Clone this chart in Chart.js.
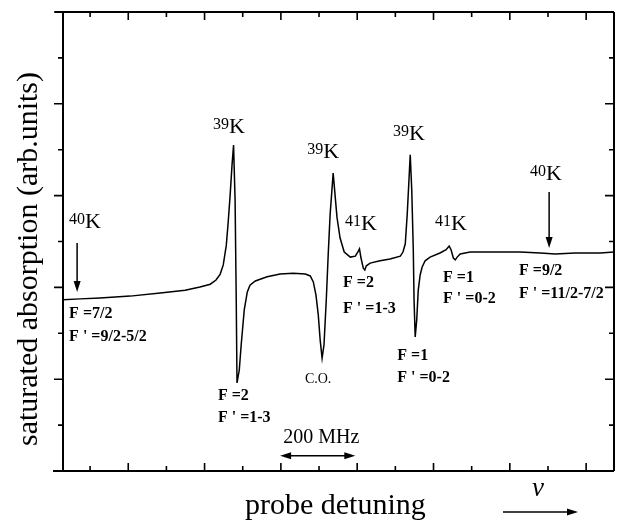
<!DOCTYPE html>
<html><head><meta charset="utf-8">
<script src="https://cdn.jsdelivr.net/npm/chart.js@4/dist/chart.umd.min.js"></script>
<style>html,body{margin:0;padding:0;background:#fff}#wrap{width:619px;height:521px}</style>
</head><body><div id="wrap"><canvas id="c" width="619" height="521"></canvas></div>
<script>
// probe detuning (MHz, arbitrary origin) and saturated absorption signal (arb. units)
const detuningMHz = [-71,-26,26,105,184,249,288,315,330,341,349,357,362,367,372,376,380,383,385,391,396,404,412,419,433,464,498,532,564,577,585,592,598,603,608,613,619,624,629,637,642,647,655,666,682,695,703,706,710,716,720,724,734,760,786,813,820,826,831,835,839,843,847,849,852,856,860,865,870,878,891,917,933,941,946,952,957,962,970,996,1075,1127,1180,1219,1271,1337,1374];
const absorption = [3.73,3.75,3.77,3.81,3.88,3.94,4.01,4.07,4.16,4.29,4.49,4.92,5.43,6.01,6.67,7.10,5.90,3.73,1.92,2.20,2.75,3.51,3.90,4.05,4.14,4.23,4.29,4.31,4.29,4.25,4.12,3.83,3.40,2.85,2.46,2.75,3.73,4.71,5.58,6.49,6.01,5.53,5.08,4.77,4.66,4.68,4.79,4.84,4.64,4.42,4.38,4.47,4.53,4.58,4.62,4.68,4.77,4.95,5.58,6.23,6.89,6.12,4.82,3.73,2.92,3.29,3.94,4.27,4.44,4.58,4.66,4.75,4.82,4.90,4.82,4.64,4.60,4.66,4.73,4.77,4.77,4.77,4.75,4.73,4.75,4.75,4.77];
const xTickValues = [0,100,200,300,400,500,600,700,800,900,1000,1100,1200,1300];
const yTickValues = [0,1,2,3,4,5,6,7,8,9,10];

// annotation texts (positions in data units)
const isotopeLabels = [
  {mass:'40', x:-55, y:5.29},
  {mass:'39', x:322, y:7.36},
  {mass:'39', x:569, y:6.82},
  {mass:'41', x:668, y:5.25},
  {mass:'39', x:794, y:7.21},
  {mass:'41', x:904, y:5.25},
  {mass:'40', x:1153, y:6.34}
];
const levelLabels = [
  {text:'F =7/2', x:-55, y:3.33},
  {text:"F ' =9/2-5/2", x:-55, y:2.83},
  {text:'F =2', x:335, y:1.55},
  {text:"F ' =1-3", x:335, y:1.07},
  {text:'F =2', x:663, y:4.01},
  {text:"F ' =1-3", x:663, y:3.44},
  {text:'F =1', x:805, y:2.42},
  {text:"F ' =0-2", x:805, y:1.94},
  {text:'F =1', x:925, y:4.12},
  {text:"F ' =0-2", x:925, y:3.66},
  {text:'F =9/2', x:1124, y:4.27},
  {text:"F ' =11/2-7/2", x:1124, y:3.77}
];
const plainLabels = [
  {text:'C.O.', x:563, y:1.92},
  {text:'200 MHz', x:506, y:0.61}
];
const downArrows = [
  {x:-34, y0:4.97, y1:3.90},
  {x:1203, y0:6.08, y1:4.86}
];
const scaleBar = {x0:498, x1:695, y:0.33};

const points = detuningMHz.map((x,i)=>({x:x, y:absorption[i]}));

function arrowHead(ctx, x, y, dir, len, half){
  ctx.beginPath();
  if(dir==='down'){ctx.moveTo(x,y);ctx.lineTo(x-half,y-len);ctx.lineTo(x+half,y-len);}
  if(dir==='right'){ctx.moveTo(x,y);ctx.lineTo(x-len,y-half);ctx.lineTo(x-len,y+half);}
  if(dir==='left'){ctx.moveTo(x,y);ctx.lineTo(x+len,y-half);ctx.lineTo(x+len,y+half);}
  ctx.closePath();ctx.fill();
}

const decor = {
  id:'decor',
  afterDraw(chart){
    const ctx = chart.ctx, a = chart.chartArea, xs = chart.scales.x, ys = chart.scales.y;
    ctx.save();
    ctx.strokeStyle='#000'; ctx.fillStyle='#000';
    // frame
    ctx.lineWidth=2;
    ctx.beginPath();
    ctx.moveTo(a.left-8,a.top);ctx.lineTo(a.right,a.top);
    ctx.moveTo(a.left-10,a.bottom);ctx.lineTo(a.right,a.bottom);
    ctx.moveTo(a.left,a.top);ctx.lineTo(a.left,a.bottom);
    ctx.moveTo(a.right,a.top);ctx.lineTo(a.right,a.bottom);
    ctx.stroke();
    // ticks
    ctx.lineWidth=1.6;
    ctx.beginPath();
    xTickValues.forEach(v=>{
      const px = xs.getPixelForValue(v);
      const len = (v/100)%2===1 ? 8 : 5;
      ctx.moveTo(px,a.bottom);ctx.lineTo(px,a.bottom-len);
      ctx.moveTo(px,a.top);ctx.lineTo(px,a.top+len);
    });
    yTickValues.forEach(v=>{
      const py = ys.getPixelForValue(v);
      const len = v%2===0 ? 9 : 5;
      ctx.moveTo(a.left,py);ctx.lineTo(a.left-len,py);
      ctx.moveTo(a.right,py);ctx.lineTo(a.right-len,py);
    });
    ctx.stroke();
    // isotope labels
    ctx.textBaseline='alphabetic'; ctx.textAlign='left';
    isotopeLabels.forEach(l=>{
      const px = xs.getPixelForValue(l.x), py = ys.getPixelForValue(l.y);
      ctx.font='16px "Liberation Serif"';
      ctx.fillText(l.mass, px, py-4);
      const w = ctx.measureText(l.mass).width;
      ctx.font='22px "Liberation Serif"';
      ctx.fillText('K', px+w, py);
    });
    ctx.font='bold 16px "Liberation Serif"';
    levelLabels.forEach(l=>{
      ctx.fillText(l.text, xs.getPixelForValue(l.x), ys.getPixelForValue(l.y));
    });
    ctx.font='14px "Liberation Serif"';
    ctx.fillText(plainLabels[0].text, xs.getPixelForValue(plainLabels[0].x), ys.getPixelForValue(plainLabels[0].y));
    ctx.font='20px "Liberation Serif"';
    ctx.fillText(plainLabels[1].text, xs.getPixelForValue(plainLabels[1].x), ys.getPixelForValue(plainLabels[1].y));
    // arrows
    ctx.lineWidth=1.5;
    downArrows.forEach(d=>{
      const px = xs.getPixelForValue(d.x), p0 = ys.getPixelForValue(d.y0), p1 = ys.getPixelForValue(d.y1);
      ctx.beginPath();ctx.moveTo(px,p0);ctx.lineTo(px,p1-8);ctx.stroke();
      arrowHead(ctx,px,p1,'down',11,3.5);
    });
    const bx0 = xs.getPixelForValue(scaleBar.x0), bx1 = xs.getPixelForValue(scaleBar.x1), by = ys.getPixelForValue(scaleBar.y);
    ctx.beginPath();ctx.moveTo(bx0+8,by);ctx.lineTo(bx1-8,by);ctx.stroke();
    arrowHead(ctx,bx0,by,'left',11,3.5);
    arrowHead(ctx,bx1,by,'right',11,3.5);
    // axis titles
    ctx.font='30px "Liberation Serif"';
    ctx.textAlign='left';
    ctx.fillText('probe detuning', 245, 514);
    ctx.save();
    ctx.translate(37, 259);
    ctx.rotate(-Math.PI/2);
    ctx.textAlign='center';
    ctx.fillText('saturated absorption (arb.units)', 0, 0);
    ctx.restore();
    ctx.font='italic 27px "Liberation Serif"';
    ctx.textAlign='left';
    ctx.fillText('\u03BD', 532, 496);
    ctx.beginPath();ctx.moveTo(503,512);ctx.lineTo(570,512);ctx.stroke();
    arrowHead(ctx,578,512,'right',11,3.5);
    ctx.restore();
  }
};

new Chart(document.getElementById('c'), {
  type:'line',
  data:{datasets:[{data:points, borderColor:'#000', borderWidth:1.5, pointRadius:0, tension:0, fill:false}]},
  options:{
    responsive:false, animation:false,
    layout:{padding:{left:63, top:12, right:5, bottom:50}},
    plugins:{legend:{display:false}, tooltip:{enabled:false}},
    scales:{
      x:{type:'linear', min:-71, max:1373, display:false},
      y:{type:'linear', min:0, max:10, display:false}
    }
  },
  plugins:[decor]
});
</script>
</body></html>
